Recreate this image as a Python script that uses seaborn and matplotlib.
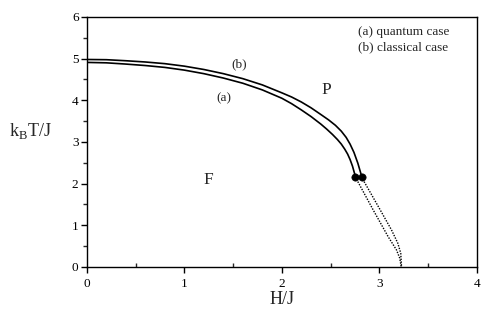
import numpy as np
import pandas as pd
import matplotlib
matplotlib.use("Agg")
import matplotlib.pyplot as plt
import seaborn as sns
from matplotlib.ticker import MultipleLocator

# --- data ---
# (b) classical case, second-order line
h_classical = [0, 0.2, 0.4, 0.6, 0.8, 1.0, 1.2, 1.4, 1.6, 1.8, 2.0, 2.1, 2.2, 2.3,
               2.4, 2.48, 2.55, 2.61, 2.66, 2.70, 2.74, 2.78, 2.82]
t_classical = [4.98, 4.975, 4.95, 4.92, 4.88, 4.82, 4.74, 4.64, 4.52, 4.37, 4.18, 4.08,
               3.96, 3.82, 3.66, 3.53, 3.40, 3.26, 3.11, 2.95, 2.75, 2.49, 2.17]

# (a) quantum case, second-order line
h_quantum = [0, 0.2, 0.4, 0.6, 0.8, 1.0, 1.2, 1.4, 1.6, 1.8, 2.0, 2.1, 2.2, 2.3,
             2.4, 2.46, 2.52, 2.57, 2.61, 2.645, 2.675, 2.70, 2.725, 2.755]
t_quantum = [4.91, 4.90, 4.87, 4.835, 4.79, 4.725, 4.64, 4.535, 4.41, 4.25, 4.05, 3.92,
             3.77, 3.61, 3.43, 3.31, 3.18, 3.06, 2.95, 2.83, 2.71, 2.58, 2.42, 2.17]

# first-order (dashed) lines below the tricritical points
h_quantum_fo = [2.755, 2.77, 2.937, 3.09, 3.176, 3.21, 3.225]
t_quantum_fo = [2.17, 2.09, 1.37, 0.73, 0.41, 0.21, 0.0]
h_classical_fo = [2.82, 2.834, 2.99, 3.125, 3.19, 3.22, 3.228]
t_classical_fo = [2.17, 2.09, 1.45, 0.89, 0.57, 0.33, 0.0]

# tricritical points
h_tcp = [2.755, 2.82]
t_tcp = [2.17, 2.17]

sns.set_style("ticks")
plt.rcParams['font.family'] = ['Liberation Serif', 'DejaVu Serif']
plt.rcParams['mathtext.fontset'] = 'custom'
plt.rcParams['mathtext.rm'] = 'Liberation Serif'

fig = plt.figure(figsize=(4.88, 3.09), dpi=100)
ax = fig.add_axes([0.178, 0.136, 0.799, 0.809])

solid = pd.DataFrame({'H': h_classical + h_quantum,
                      'T': t_classical + t_quantum,
                      'case': ['b'] * len(h_classical) + ['a'] * len(h_quantum)})
dashed = pd.DataFrame({'H': h_classical_fo + h_quantum_fo,
                       'T': t_classical_fo + t_quantum_fo,
                       'case': ['b'] * len(h_classical_fo) + ['a'] * len(h_quantum_fo)})

sns.lineplot(data=solid, x='H', y='T', units='case', estimator=None, sort=False,
             color='black', lw=1.2, ax=ax)
sns.lineplot(data=dashed, x='H', y='T', units='case', estimator=None, sort=False,
             color='black', lw=1.0, linestyle=(0, (1, 1)), ax=ax)
sns.scatterplot(x=h_tcp, y=t_tcp, color='black', s=28, edgecolor='black', zorder=5, ax=ax)

ax.set_xlim(0, 4)
ax.set_ylim(0, 6)
ax.xaxis.set_major_locator(MultipleLocator(1))
ax.xaxis.set_minor_locator(MultipleLocator(0.5))
ax.yaxis.set_major_locator(MultipleLocator(1))
ax.yaxis.set_minor_locator(MultipleLocator(0.5))
ax.tick_params(axis='both', which='major', direction='out', length=4, width=1,
               labelsize=9.5, color='black', labelcolor='black', pad=2)
ax.tick_params(axis='x', which='major', pad=4)
ax.tick_params(axis='y', which='minor', direction='out', length=3, width=1)
ax.tick_params(axis='x', which='minor', direction='in', length=3, width=1)
for sp in ax.spines.values():
    sp.set_visible(True)
    sp.set_color('black')
    sp.set_linewidth(1.0)

ax.set_xlabel('H/J', fontsize=13, labelpad=1)
ax.set_ylabel('')
fig.text(0.018, 0.575, r'k$_\mathrm{B}$T/J', fontsize=13, ha='left', va='center')

ax.text(1.25, 2.09, 'F', fontsize=12.5, ha='center', va='center')
ax.text(2.46, 4.25, 'P', fontsize=12.5, ha='center', va='center')
ax.text(1.56, 4.86, '(b)', fontsize=9.5, ha='center', va='center')
ax.text(1.41, 4.05, '(a)', fontsize=9.5, ha='center', va='center')
ax.text(2.78, 5.64, '(a) quantum case', fontsize=9.5, ha='left', va='center')
ax.text(2.78, 5.28, '(b) classical case', fontsize=9.5, ha='left', va='center')

fig.savefig('out.png', dpi=100)
